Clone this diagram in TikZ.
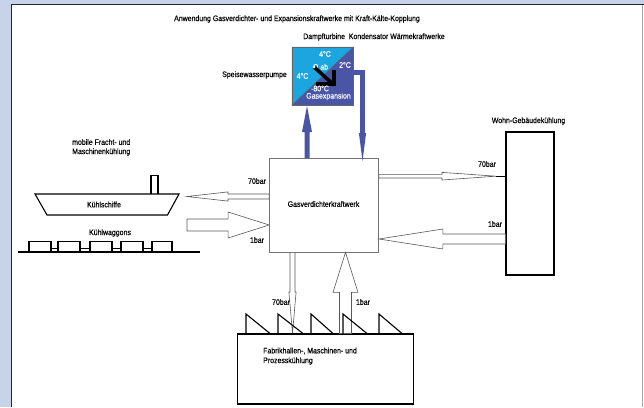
\documentclass[tikz,border=0pt]{standalone}
\usepackage{fontspec}
\setmainfont[FakeStretch=0.87,FakeBold=0.35]{Liberation Sans}
\usetikzlibrary{calc}
\definecolor{bandblue}{HTML}{C6D3E8}
\definecolor{panellight}{HTML}{1CA6DF}
\definecolor{paneldark}{HTML}{4A55A5}
\tikzset{
 lbl/.style={font=\fontsize{8}{9}\selectfont,text=black,inner sep=0pt},
 lblw/.style={font=\fontsize{8}{9}\selectfont,text=white,inner sep=0pt},
 greybox/.style={draw=black!55,line width=.8pt,fill=white,inner sep=0pt},
 blackbox/.style={draw=black,line width=1.1pt,fill=white,inner sep=0pt},
 outline/.style={draw=black!65,line width=.6pt,fill=white},
 solidblue/.style={draw=none,fill=paneldark},
 thick line/.style={draw=black,line width=1.1pt},
}
% from, to, shaft half width, head half width, head length, style
\newcommand{\blockarrow}[6]{%
 \coordinate (h) at ($(#2)!#5!(#1)$);
 \path[#6] ($(#1)!#3!90:(#2)$) -- ($(h)!#3!90:(#2)$) -- ($(h)!#4!90:(#2)$) -- (#2)
   -- ($(h)!#4!-90:(#2)$) -- ($(h)!#3!-90:(#2)$) -- ($(#1)!#3!-90:(#2)$) -- cycle;
}
\begin{document}
\begin{tikzpicture}[x=1pt,y=-1pt]
\useasboundingbox (0,0) rectangle (644,407);
\fill[white] (0,0) rectangle (644,407);
\fill[bandblue] (0,0) rectangle (644,4);
\fill[bandblue] (0,0) rectangle (11,407);
\fill[black!85] (11,4) rectangle (644,5.3);
\fill[black!85] (11,4) rectangle (12.3,407);
\fill[black!35] (642,5) rectangle (643,407);

% boxes
\node[greybox,minimum width=109pt,minimum height=94pt] (main) at (324,205) {};
\node[blackbox,minimum width=48pt,minimum height=143pt] (wohn) at (530,203.5) {};
\node[blackbox,minimum width=176pt,minimum height=70pt] (fabrik) at (325.5,369) {};
\node[inner sep=0pt,minimum width=61pt,minimum height=58pt] (panel) at (322.5,76) {};

% panel
\fill[panellight] (panel.south west) -- (panel.north east) -- (panel.north west) -- cycle;
\fill[paneldark] (panel.south west) -- (panel.north east) -- (panel.south east) -- cycle;
\draw[black!60,line width=.5pt] (panel.south west) rectangle (panel.north east);
\draw[black!60,line width=.4pt] (panel.south west) -- (panel.north east);
\node[lblw] (t4a) at (325,54) {4°C};
\node[lblw] (t2) at (345,65) {2°C};
\node[lblw] (t4b) at (302.5,76) {4°C};
\node[lblw] (qab) at (320.5,67.5) {Q ab};
\coordinate (qs) at (314,67);
\coordinate (qe) at (334,85);
\coordinate (qt) at (334,70);
\coordinate (ql) at (316,84);
\draw[black,line width=3.6pt] (qs) -- (qe);
\draw[black,line width=3.6pt] (qt) -- (qe |- ql) -- (ql);
\fill[white] (qs) circle (1.5pt);
\node[lblw] (t80) at (320,88.5) {-80°C};
\node[lblw] (gasexp) at (328.5,96.5) {Gasexpansion};

% blue connectors
\coordinate (up1) at (307,158);
\coordinate (up2) at (307,106);
\blockarrow{up1}{up2}{2.5pt}{5pt}{26pt}{solidblue}
\coordinate (d0) at (353,72.5);
\coordinate (d1) at (362.5,72.5);
\coordinate (d2) at (362.5,133);
\coordinate (d3) at (362.5,161);
\draw[paneldark,line width=4.6pt] (d0) -- (d1) -- (d2);
\blockarrow{d2}{d3}{2.5pt}{3.6pt}{28pt}{solidblue}

% left arrows
\coordinate (a1s) at (main.west |- 0,196.5);
\coordinate (a1e) at (187,196.5);
\blockarrow{a1s}{a1e}{2.5pt}{4.6pt}{41pt}{outline}
\coordinate (a2s) at (187,225);
\coordinate (a2e) at (main.west |- 0,225);
\blockarrow{a2s}{a2e}{6pt}{13pt}{41pt}{outline}

% right arrows
\coordinate (r1s) at (main.east |- 0,176.2);
\coordinate (r1e) at (496,176.2);
\blockarrow{r1s}{r1e}{1.8pt}{3.8pt}{54pt}{outline}
\coordinate (r1w) at (wohn.west |- r1e);
\draw[black,line width=.6pt] (r1e) -- (r1w);
\coordinate (r2s) at (wohn.west |- 0,239);
\coordinate (r2e) at (main.east |- 0,239);
\blockarrow{r2s}{r2e}{5pt}{10pt}{64pt}{outline}

% bottom arrows
\coordinate (b1s) at (main.south -| 292.5,0);
\coordinate (b1e) at (292.5,333);
\blockarrow{b1s}{b1e}{2.5pt}{3.6pt}{41pt}{outline}
\coordinate (b2s) at (fabrik.north -| 345.5,0);
\coordinate (b2e) at (main.south -| 345.5,0);
\blockarrow{b2s}{b2e}{6pt}{12.5pt}{40pt}{outline}

% sawtooth roof
\foreach \xa/\xb/\xc in {246/246/270,278/278/303,311/311/333,343/343/367,379/379/402}{
 \draw[thick line] (\xa,333.5) -- (\xb,314) -- (\xc,333.5);
}

% ship
\draw[thick line,fill=white] (151,193.5) -- (151,175.5) -- (158,175.5) -- (158,193.5);
\draw[thick line,fill=white] (35,194) -- (179,194) -- (167.5,215) -- (47,215) -- cycle;

% train
\foreach \xa/\xb in {51/58,80/90,112/121,143/152}{
 \draw[black,line width=.7pt] (\xa,248) -- (\xb,248);
}
\foreach \xa/\xb in {29/51,58/80,90/112,121/143,152/172}{
 \draw[thick line,fill=white] (\xa,252) -- (\xa,241.5) -- (\xb,241.5) -- (\xb,252);
}
\draw[thick line] (18,252) -- (200,252);

% labels
\node[lbl] (title) at (297,19) {Anwendung Gasverdichter- und Expansionskraftwerke mit Kraft-Kälte-Kopplung};
\node[lbl] (dampf) at (374,37) {Dampfturbine\ \ Kondensator Wärmekraftwerke};
\node[lbl] (speise) at (254.5,75) {Speisewasserpumpe};
\node[lbl] (gasv) at (323.5,204) {Gasverdichterkraftwerk};
\node[lbl,anchor=west] (mob1) at (72,142) {mobile Fracht- und};
\node[lbl,anchor=west] (mob2) at (72,152) {Maschinenkühlung};
\node[lbl] (schiff) at (104,204.5) {Kühlschiffe};
\node[lbl] (wagg) at (110,233) {Kühlwaggons};
\node[lbl] (l70a) at (257,181) {70bar};
\node[lbl] (l1a) at (257,240) {1bar};
\node[lbl] (wohnl) at (528.5,121) {Wohn-Gebäudekühlung};
\node[lbl] (l70b) at (487,164) {70bar};
\node[lbl] (l1b) at (495,224) {1bar};
\node[lbl] (l70c) at (281,302) {70bar};
\node[lbl] (l1c) at (363,302) {1bar};
\node[lbl,anchor=west] (fab1) at (263,351) {Fabrikhallen-, Maschinen- und};
\node[lbl,anchor=west] (fab2) at (263,361) {Prozesskühlung};
\end{tikzpicture}
\end{document}
